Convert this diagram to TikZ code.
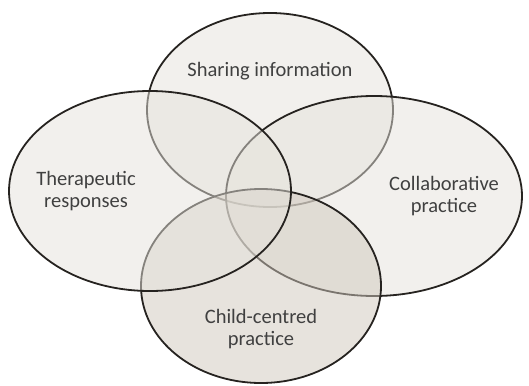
\documentclass[tikz,border=0pt]{standalone}
\usepackage{fontspec}
\setmainfont{Carlito}
\definecolor{vennfill}{RGB}{229,226,219}
\definecolor{childfill}{RGB}{207,199,188}
\definecolor{vennline}{RGB}{38,35,32}
\definecolor{venntext}{RGB}{64,64,64}
\tikzset{
	venn/.style={draw=vennline, line width=1.8pt, fill=vennfill, fill opacity=0.5},
	vennlabel/.style={text=venntext, align=center, font=\fontsize{20.5}{22.5}\selectfont}
}
\begin{document}
\begin{tikzpicture}[x=1pt,y=-1pt]
				\useasboundingbox (0,0) rectangle (529,385);
				\draw [venn] (270,110) circle [x radius=123pt, y radius=97pt];
				\draw [venn] (374,196) circle [x radius=148pt, y radius=100pt];
				\draw [venn, fill=childfill] (261,286) circle [x radius=120pt, y radius=97pt];
				\draw [venn] (150,191) circle [x radius=141pt, y radius=100pt];
				\node [vennlabel] (sharing) at (270,71) {Sharing information};
				\node [vennlabel] (therapeutic) at (86,191) {Therapeutic\\responses};
				\node [vennlabel] (collaborative) at (444,196) {Collaborative\\practice};
				\node [vennlabel] (child) at (261,329) {Child-centred\\practice};
			\end{tikzpicture}
\end{document}
